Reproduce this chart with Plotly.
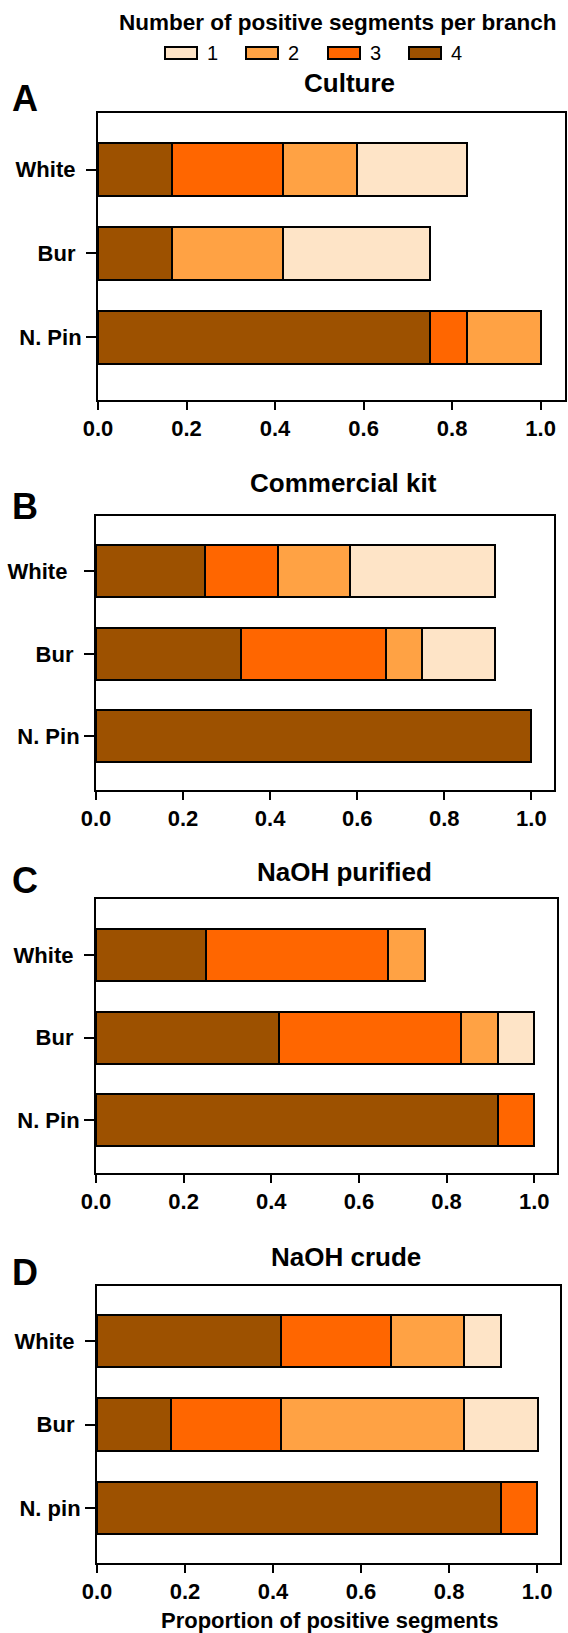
import plotly.graph_objects as go

W, H = 568, 1633

# ---------------- data ----------------
categories = ["White", "Bur", "N. Pin"]
categories_d = ["White", "Bur", "N. pin"]
levels = ["4", "3", "2", "1"]
legend_levels = ["1", "2", "3", "4"]
colors = {"1": "#FEE4C7", "2": "#FFA244", "3": "#FF6600", "4": "#9D5100"}

panel_titles = ["Culture", "Commercial kit", "NaOH purified", "NaOH crude"]
panel_letters = ["A", "B", "C", "D"]

# values per category [White, Bur, N. Pin] for number of positive segments 4,3,2,1
culture_4 = [0.167, 0.167, 0.750]
culture_3 = [0.250, 0.000, 0.083]
culture_2 = [0.167, 0.250, 0.167]
culture_1 = [0.250, 0.333, 0.000]

kit_4 = [0.250, 0.333, 1.000]
kit_3 = [0.167, 0.333, 0.000]
kit_2 = [0.167, 0.083, 0.000]
kit_1 = [0.333, 0.167, 0.000]

purified_4 = [0.250, 0.417, 0.917]
purified_3 = [0.417, 0.417, 0.083]
purified_2 = [0.083, 0.083, 0.000]
purified_1 = [0.000, 0.083, 0.000]

crude_4 = [0.417, 0.167, 0.917]
crude_3 = [0.250, 0.250, 0.083]
crude_2 = [0.167, 0.417, 0.000]
crude_1 = [0.083, 0.167, 0.000]

x_tickvals = [0.0, 0.2, 0.4, 0.6, 0.8, 1.0]
x_ticktext = ["0.0", "0.2", "0.4", "0.6", "0.8", "1.0"]

panels = [
    {"cats": categories, "labels": ["White\u00a0", "Bur\u00a0", "N. Pin"],
     "vals": {"4": culture_4, "3": culture_3, "2": culture_2, "1": culture_1}},
    {"cats": categories, "labels": ["White\u00a0\u00a0", "Bur\u00a0", "N. Pin"],
     "vals": {"4": kit_4, "3": kit_3, "2": kit_2, "1": kit_1}},
    {"cats": categories, "labels": ["White\u00a0", "Bur\u00a0", "N. Pin"],
     "vals": {"4": purified_4, "3": purified_3, "2": purified_2, "1": purified_1}},
    {"cats": categories_d, "labels": ["White\u00a0", "Bur\u00a0", "N. pin"],
     "vals": {"4": crude_4, "3": crude_3, "2": crude_2, "1": crude_1}},
]

# ---------------- layout geometry (pixels) ----------------
boxes = [  # x0, x1, y0(top), y1(bottom)
    (98, 565, 113, 400),
    (96, 554, 516, 790),
    (96, 557, 899, 1173),
    (97, 560, 1286, 1563),
]
y_ranges = [[-0.75, 2.675], [-0.65, 2.67], [-0.64, 2.68], [-0.66, 2.66]]
x_max = [1.055, 1.052, 1.052, 1.052]
title_pos = [(349, 83), (343, 483), (344, 872), (346, 1257)]
letter_pos = [(25, 98), (25, 507), (25, 880), (25, 1272)]

FONT = "Liberation Sans, Arial, sans-serif"


def px(x):
    return x / W


def py(y):
    return 1 - y / H


fig = go.Figure()
layout = dict(
    width=W, height=H,
    margin=dict(l=0, r=0, t=0, b=0, autoexpand=False),
    paper_bgcolor="white", plot_bgcolor="white",
    barmode="stack", bargap=0.37,
    showlegend=False,
    font=dict(family=FONT, color="black"),
)

annotations = []
shapes = []

for i, p in enumerate(panels):
    n = i + 1
    xa = "x" if n == 1 else f"x{n}"
    ya = "y" if n == 1 else f"y{n}"
    for lv in levels:
        fig.add_trace(go.Bar(
            y=p["cats"], x=p["vals"][lv], orientation="h",
            name=lv, xaxis=xa, yaxis=ya,
            marker=dict(color=colors[lv], line=dict(color="black", width=2)),
        ))
    x0, x1, y0, y1 = boxes[i]
    layout[f"xaxis{n if n > 1 else ''}"] = dict(
        domain=[px(x0), px(x1)], anchor=ya, range=[0, x_max[i]],
        tickvals=x_tickvals, ticktext=x_ticktext, automargin=False,
        showline=True, linewidth=2, linecolor="black", mirror=True,
        ticks="outside", ticklen=8, tickwidth=2, tickcolor="black",
        showgrid=False, zeroline=False,
        tickfont=dict(size=22, family=FONT, color="black", weight="bold"),
    )
    layout[f"yaxis{n if n > 1 else ''}"] = dict(
        domain=[py(y1), py(y0)], anchor=xa, type="category",
        categoryorder="array", categoryarray=list(reversed(p["cats"])),
        tickvals=p["cats"], ticktext=p["labels"], automargin=False,
        range=y_ranges[i],
        showline=True, linewidth=2, linecolor="black", mirror=True,
        ticks="outside", ticklen=10, tickwidth=2, tickcolor="black",
        showgrid=False, zeroline=False,
        tickfont=dict(size=22, family=FONT, color="black", weight="bold"),
    )
    tx, ty = title_pos[i]
    annotations.append(dict(
        text=f"<b>{panel_titles[i]}</b>", x=px(tx), y=py(ty), xref="paper", yref="paper",
        xanchor="center", yanchor="middle", showarrow=False,
        font=dict(size=26, family=FONT, color="black"),
    ))
    lx, ly = letter_pos[i]
    annotations.append(dict(
        text=f"<b>{panel_letters[i]}</b>", x=px(lx), y=py(ly), xref="paper", yref="paper",
        xanchor="center", yanchor="middle", showarrow=False,
        font=dict(size=36, family=FONT, color="black"),
    ))

# x-axis title (shared, under the last panel)
annotations.append(dict(
    text="<b>Proportion of positive segments</b>", x=px(329), y=py(1620),
    xref="paper", yref="paper", xanchor="center", yanchor="middle", showarrow=False,
    font=dict(size=22, family=FONT, color="black"),
))

# legend (title + swatches)
annotations.append(dict(
    text="<b>Number of positive segments per branch</b>", x=px(338), y=py(23),
    xref="paper", yref="paper", xanchor="center", yanchor="middle", showarrow=False,
    font=dict(size=22.5, family=FONT, color="black"),
))
leg_x = [165, 246, 328, 409]
for k, lv in enumerate(legend_levels):
    sx = leg_x[k]
    shapes.append(dict(
        type="rect", xref="paper", yref="paper",
        x0=px(sx), x1=px(sx + 32), y0=py(59), y1=py(47),
        fillcolor=colors[lv], line=dict(color="black", width=2),
    ))
    annotations.append(dict(
        text=lv, x=px(sx + 40), y=py(53), xref="paper", yref="paper",
        xanchor="left", yanchor="middle", showarrow=False,
        font=dict(size=20, family=FONT, color="black"),
    ))

layout["annotations"] = annotations
layout["shapes"] = shapes
fig.update_layout(**layout)

fig.write_html(
    "out.html",
    config={"displayModeBar": False},
    post_script="document.body.style.margin='0';document.body.style.padding='0';"
                "document.documentElement.style.overflow='hidden';",
)
